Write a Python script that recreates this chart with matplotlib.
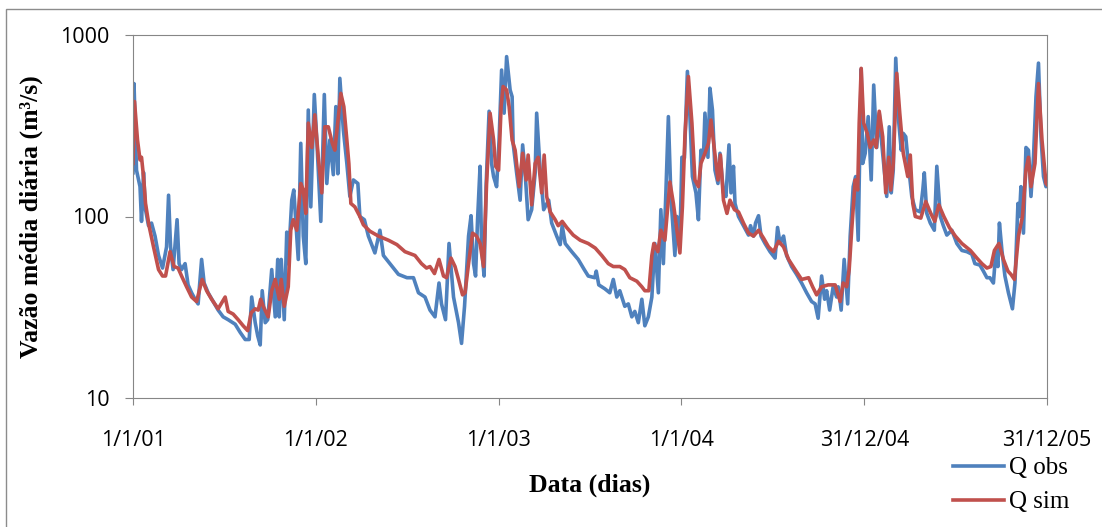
import numpy as np
import pandas as pd
import matplotlib
matplotlib.use('Agg')
import matplotlib.pyplot as plt
from matplotlib.patches import Rectangle

# days since 1/1/2001 and daily discharge (m3/s)
obs_day = [0, 2, 7, 14, 17, 21, 25, 31, 37, 44,
           51, 59, 67, 71, 75, 80, 88, 92, 97, 104,
           110, 117, 124, 130, 137, 142, 150, 160, 170, 180,
           190, 204, 214, 224, 232, 237, 244, 249, 254, 258,
           264, 269, 277, 284, 289, 292, 296, 302, 307, 310,
           317, 321, 327, 330, 335, 340, 345, 350, 355, 362,
           367, 375, 382, 387, 393, 400, 405, 409, 413, 420,
           427, 433, 440, 449, 453, 462, 470, 483, 493, 500,
           513, 530, 547, 560, 570, 583, 593, 603, 611, 616,
           624, 631, 640, 650, 656, 662, 670, 675, 680, 684,
           688, 693, 696, 701, 705, 711, 716, 720, 726, 731,
           736, 741, 746, 753, 757, 759, 766, 773, 778, 783,
           789, 796, 803, 806, 813, 820, 830, 836, 846, 853,
           857, 863, 876, 889, 901, 909, 922, 925, 930, 942,
           952, 959, 966, 972, 982, 989, 996, 1002, 1009, 1016,
           1022, 1029, 1036, 1042, 1049, 1054, 1059, 1064, 1069, 1074,
           1082, 1086, 1092, 1096, 1101, 1107, 1112, 1117, 1124, 1129,
           1134, 1139, 1142, 1148, 1152, 1157, 1162, 1168, 1172, 1179,
           1184, 1190, 1194, 1199, 1202, 1209, 1219, 1229, 1233, 1239,
           1243, 1249, 1254, 1262, 1272, 1282, 1287, 1292, 1299, 1305,
           1315, 1325, 1335, 1345, 1355, 1362, 1368, 1375, 1381, 1385,
           1391, 1398, 1405, 1408, 1414, 1420, 1427, 1432, 1438, 1443,
           1448, 1454, 1457, 1462, 1468, 1474, 1479, 1485, 1490, 1495,
           1500, 1505, 1510, 1514, 1518, 1523, 1528, 1534, 1538, 1543,
           1548, 1555, 1562, 1572, 1577, 1580, 1585, 1592, 1600, 1605,
           1612, 1618, 1625, 1635, 1645, 1655, 1665, 1675, 1681, 1691,
           1698, 1705, 1711, 1718, 1723, 1727, 1730, 1735, 1741, 1748,
           1756, 1761, 1767, 1770, 1773, 1778, 1783, 1788, 1793, 1798,
           1803, 1808, 1813, 1818, 1823, 1825]
q_obs = [174, 540, 180, 146, 94, 175, 109, 89, 92, 78,
         61, 52, 68, 131, 68, 51, 96, 55, 51, 55,
         42, 38, 35, 33, 58, 43, 38, 34, 30.5, 28,
         27, 25.5, 23, 21, 21, 36, 26, 22, 19.6, 39,
         26, 27, 51, 28, 58, 28, 58, 27, 82, 55,
         123, 140, 78, 58, 253, 78, 55, 386, 113, 470,
         264, 94, 470, 152, 264, 170, 403, 172, 577, 300,
         196, 129, 159, 152, 100, 96, 78, 63, 84, 61,
         55, 48, 46, 46, 38, 36, 30.5, 28, 43, 33,
         27, 71, 36, 26, 20, 32, 78, 101, 55, 47,
         96, 189, 68, 47, 146, 380, 196, 166, 146, 264,
         641, 371, 760, 498, 457, 253, 174, 123, 248, 174,
         96, 109, 174, 371, 180, 109, 123, 92, 78, 70,
         89, 71, 64, 58, 51, 47, 46, 50, 42, 40,
         38, 45, 36, 39, 32, 33, 28, 30, 26, 35,
         25, 28, 36, 71, 38, 109, 55, 135, 355, 129,
         61, 100, 71, 212, 210, 630, 355, 166, 135, 96,
         232, 212, 371, 212, 509, 386, 180, 152, 223, 135,
         129, 248, 135, 189, 118, 100, 89, 79, 89, 78,
         92, 101, 78, 71, 64, 59, 87, 71, 78, 61,
         53, 48, 43, 38, 34, 33, 27.5, 47, 35, 39,
         30.5, 41, 36, 41, 30.5, 58, 33, 78, 146, 166,
         74, 650, 196, 223, 355, 159, 530, 240, 371, 253,
         180, 129, 312, 135, 180, 745, 355, 232, 287, 275,
         196, 129, 109, 106, 140, 174, 104, 92, 84, 189,
         100, 89, 79, 84, 71, 65, 64, 62, 55, 54,
         50, 46, 46, 43, 65, 53, 92, 65, 47, 38,
         31, 43, 118, 100, 146, 81, 240, 232, 129, 212,
         457, 700, 275, 166, 146, 150]

sim_day = [0, 3, 9, 14, 17, 21, 25, 32, 41, 51,
           59, 65, 74, 82, 90, 97, 107, 117, 127, 138,
           147, 157, 170, 184, 190, 200, 210, 220, 229, 236,
           244, 250, 255, 260, 270, 277, 284, 292, 296, 302,
           310, 315, 320, 327, 335, 340, 345, 350, 357, 363,
           370, 377, 383, 390, 398, 403, 410, 415, 421, 427,
           431, 435, 443, 453, 460, 473, 490, 510, 527, 543,
           563, 576, 586, 593, 602, 611, 620, 626, 635, 643,
           650, 658, 663, 670, 678, 686, 693, 700, 706, 713,
           720, 724, 730, 735, 739, 746, 751, 757, 763, 771,
           778, 785, 789, 796, 803, 809, 816, 821, 826, 833,
           843, 849, 857, 866, 879, 893, 909, 923, 936, 949,
           959, 972, 982, 992, 1006, 1016, 1022, 1030, 1036, 1040,
           1048, 1054, 1062, 1072, 1079, 1086, 1092, 1097, 1102, 1109,
           1116, 1122, 1129, 1134, 1142, 1149, 1154, 1161, 1168, 1173,
           1179, 1186, 1192, 1201, 1209, 1219, 1229, 1239, 1249, 1259,
           1269, 1279, 1289, 1299, 1309, 1322, 1335, 1349, 1357, 1365,
           1375, 1388, 1402, 1412, 1418, 1425, 1430, 1435, 1442, 1447,
           1450, 1454, 1459, 1466, 1472, 1479, 1484, 1490, 1497, 1503,
           1509, 1513, 1518, 1525, 1531, 1538, 1547, 1552, 1557, 1562,
           1573, 1583, 1593, 1601, 1609, 1619, 1630, 1642, 1655, 1672,
           1685, 1695, 1705, 1713, 1720, 1729, 1738, 1747, 1753, 1760,
           1768, 1776, 1783, 1788, 1793, 1801, 1808, 1815, 1823, 1825]
q_sim = [196, 430, 264, 205, 212, 166, 118, 89, 68, 51,
         47, 47, 64, 53, 52, 47, 41, 36, 34, 45,
         39, 35, 31, 36, 30, 29, 27, 25, 23.5, 29.5,
         31, 30.5, 35, 32, 28, 39, 45, 35, 45, 32,
         41, 84, 96, 84, 152, 140, 104, 327, 240, 363,
         212, 135, 312, 312, 253, 232, 355, 477, 403, 264,
         196, 118, 113, 100, 90, 83, 78, 74, 70, 64,
         61, 55, 52, 53, 48.5, 58, 47, 46, 59, 53,
         45, 37, 38, 55, 81, 78, 71, 53, 152, 371,
         264, 189, 180, 403, 520, 498, 403, 264, 232, 146,
         223, 159, 218, 116, 196, 212, 135, 218, 129, 106,
         96, 89, 94, 87, 79, 74, 71, 67, 61, 55,
         53, 53, 51, 46, 44, 41, 39, 39, 61, 71,
         64, 84, 74, 155, 118, 84, 63, 113, 275, 590,
         327, 159, 146, 196, 223, 253, 340, 232, 159, 218,
         123, 104, 123, 109, 106, 92, 81, 78, 84, 76,
         68, 64, 73, 68, 58, 51, 45, 46, 41, 37,
         41, 42, 42, 34, 43, 41, 51, 84, 159, 140,
         327, 655, 327, 287, 240, 264, 240, 380, 275, 135,
         212, 140, 196, 615, 371, 223, 166, 218, 118, 100,
         98, 121, 104, 94, 116, 100, 87, 78, 71, 65,
         59, 55, 52, 53, 65, 71, 58, 50, 48, 45,
         78, 100, 180, 212, 146, 196, 540, 264, 152, 150]

tick_day = [0, 365, 730, 1095, 1460, 1825]
tick_labels = ['1/1/01', '1/1/02', '1/1/03', '1/1/04', '31/12/04', '31/12/05']

start = pd.Timestamp('2001-01-01')
to_date = lambda d: start + pd.to_timedelta(np.array(d), unit='D')

fig = plt.figure(figsize=(11.02, 5.27), dpi=100)
ax = fig.add_axes([133/1102, 1-398/527, (1047-133)/1102, (398-35)/527])

# outer chart border
fig.patches.append(Rectangle((6/1102, -0.05), 1.0, 1-9/527+0.05, transform=fig.transFigure,
                             fill=False, edgecolor='#8c8c8c', linewidth=1.0))

ax.plot(to_date(obs_day), q_obs, color='#4F81BD', lw=2.6, solid_joinstyle='round', label='Q obs')
ax.plot(to_date(sim_day), q_sim, color='#C0504D', lw=2.6, solid_joinstyle='round', label='Q sim')

ax.set_yscale('log')
ax.set_ylim(10, 1000)
ax.set_yticks([10, 100, 1000])
ax.set_yticklabels(['10', '100', '1000'])
ax.minorticks_off()
ax.set_xlim(to_date([0])[0], to_date([1825])[0])
ax.set_xticks(to_date(tick_day))
ax.set_xticklabels(tick_labels)

for s in ax.spines.values():
    s.set_color('#868686')
ax.tick_params(axis='y', which='major', direction='out', length=6, color='#868686',
               labelsize=15.5, pad=11)
ax.tick_params(axis='x', which='major', direction='out', length=5, color='#868686',
               labelsize=15.5, pad=18)
for lbl in ax.get_xticklabels() + ax.get_yticklabels():
    lbl.set_fontfamily('Open Sans')

ax.set_ylabel('Vazão média diária (m³/s)', family='Liberation Serif', weight='bold',
              fontsize=18.5, labelpad=12)
ax.set_xlabel('Data (dias)', family='Liberation Serif', weight='bold', fontsize=18.5, labelpad=16)

fig.legend(loc='upper left', bbox_to_anchor=(953/1102, 1-457/527), frameon=False,
           prop={'family': 'Liberation Serif', 'size': 18}, handlelength=2.05,
           handletextpad=0.2, labelspacing=0.45, borderpad=0, borderaxespad=0)

fig.savefig('out.png', dpi=100)
